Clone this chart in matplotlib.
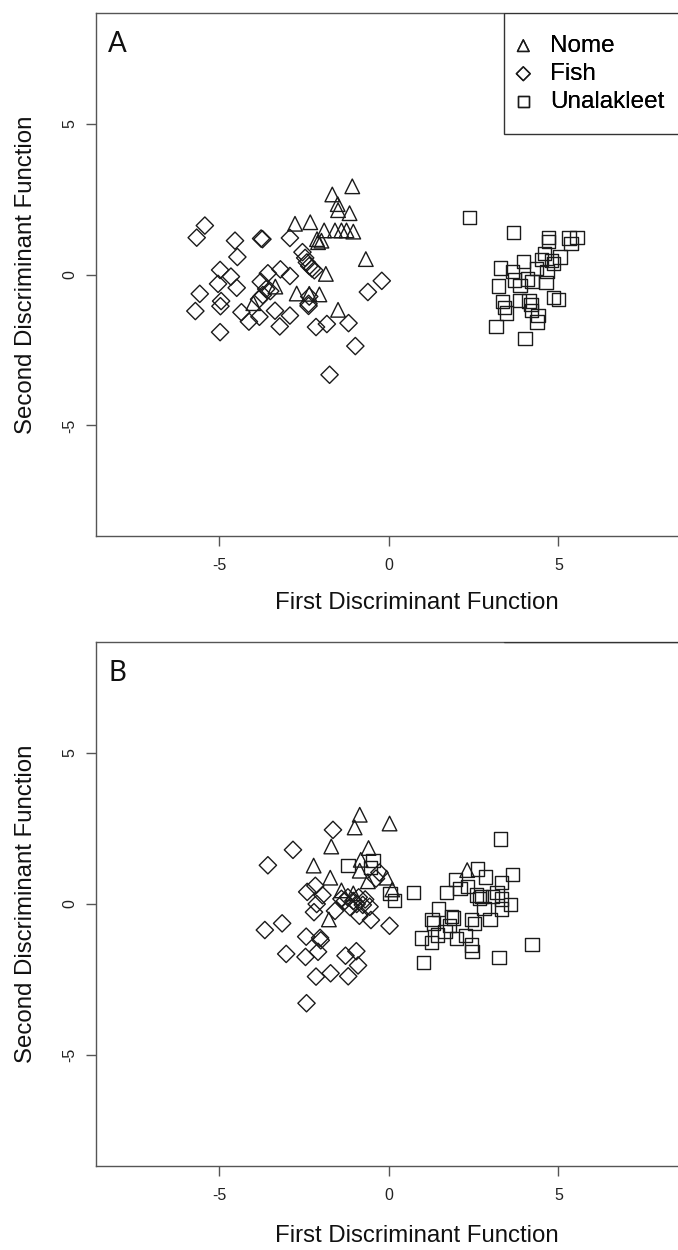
import matplotlib
matplotlib.use("Agg")
import matplotlib.pyplot as plt
from matplotlib.patches import Rectangle

plt.rcParams['font.family'] = ['Liberation Sans', 'DejaVu Sans']

# panel A
nome_a_x = [-1.08, -1.67, -1.51, -1.50, -1.16, -2.77, -2.32, -1.91, -1.59, -1.40, -1.25, -1.05,
            -2.12, -1.99, -2.09, -0.68, -1.86, -2.72, -2.35, -2.05, -1.50, -4.00, -3.35]
nome_a_y = [2.92, 2.65, 2.33, 2.13, 2.03, 1.68, 1.73, 1.46, 1.46, 1.46, 1.46, 1.42,
            1.17, 1.12, 1.07, 0.51, 0.02, -0.63, -0.64, -0.66, -1.17, -0.95, -0.40]
fish_a_x = [-5.43, -5.67, -4.54, -3.77, -3.73, -2.92, -4.47, -2.55, -2.47, -2.42, -2.35, -2.27,
            -2.20, -4.98, -4.66, -5.04, -4.49, -3.78, -3.57, -3.20, -2.92, -5.58, -4.95, -4.97,
            -5.71, -3.62, -3.72, -3.83, -3.50, -4.35, -4.13, -3.82, -3.36, -3.22, -2.92, -4.98,
            -2.37, -2.35, -2.37, -2.15, -1.83, -1.19, -0.62, -0.21, -0.99, -1.75]
fish_a_y = [1.62, 1.22, 1.12, 1.19, 1.17, 1.21, 0.58, 0.74, 0.55, 0.40, 0.28, 0.20,
            0.14, 0.15, -0.07, -0.31, -0.44, -0.24, 0.04, 0.17, -0.05, -0.64, -0.88, -1.05,
            -1.21, -0.48, -0.68, -0.82, -0.55, -1.25, -1.56, -1.40, -1.20, -1.72, -1.36, -1.91,
            -0.97, -0.73, -1.04, -1.74, -1.64, -1.61, -0.58, -0.21, -2.37, -3.32]
unal_a_x = [2.37, 3.68, 4.70, 4.70, 5.31, 5.55, 5.37, 5.05, 4.85, 4.80, 4.50, 4.60, 3.98,
            4.36, 3.30, 3.64, 3.71, 4.08, 4.22, 4.64, 3.24, 3.87, 4.66, 3.86, 4.13, 4.19,
            4.85, 5.00, 3.36, 3.41, 3.47, 4.40, 3.16, 4.02, 4.37, 4.21]
unal_a_y = [1.88, 1.38, 1.22, 1.10, 1.21, 1.22, 1.03, 0.58, 0.36, 0.46, 0.50, 0.70, 0.42,
            0.19, 0.22, 0.11, -0.18, -0.15, -0.24, -0.26, -0.38, -0.37, 0.09, -0.87, -0.88, -0.99,
            -0.77, -0.82, -0.90, -1.10, -1.27, -1.36, -1.73, -2.12, -1.57, -1.19]

# panel B
nome_b_x = [-0.86, -1.01, 0.02, -1.70, -0.60, -2.22, -0.83, -1.73, -0.86, -0.07, 0.10, 2.31,
            -1.77, -0.62, -1.05, -1.40]
nome_b_y = [2.95, 2.53, 2.66, 1.90, 1.85, 1.27, 1.46, 0.87, 1.10, 0.87, 0.48, 1.12,
            -0.51, 0.75, 0.35, 0.45]
fish_b_x = [-3.57, -2.83, -1.65, -2.41, -2.17, -1.96, -2.13, -2.21, -1.59, -1.40, -1.21, -1.05,
            -0.89, -0.77, -0.57, -0.87, -0.53, -0.28, -0.38, -3.66, -3.15, -2.44, -2.03, -2.01,
            -3.03, -2.46, -2.09, -1.28, -0.96, -0.91, -1.20, -2.15, -1.72, -2.43, 0.02, -1.30,
            -1.15, -0.95, -0.70]
fish_b_y = [1.28, 1.79, 2.45, 0.40, 0.60, 0.29, 0.00, -0.27, -0.23, 0.17, 0.22, 0.10,
            0.22, -0.03, -0.09, -0.39, -0.53, 1.04, 0.84, -0.86, -0.64, -1.08, -1.12, -1.20,
            -1.65, -1.75, -1.58, -1.71, -1.56, -2.03, -2.39, -2.40, -2.29, -3.28, -0.72, 0.10,
            -0.10, 0.00, 0.15]
unal_b_x = [3.29, 3.64, 2.62, 2.86, 1.96, 2.10, 2.31, 1.70, 3.33, 3.19, 3.06, 2.74, 2.59,
            2.68, 3.58, 3.32, 3.32, 2.81, 2.98, 2.43, 2.52, 0.73, -0.47, -1.21, 0.03, 0.17,
            1.46, 1.27, 1.32, 1.84, 1.90, 1.78, 1.66, 0.97, 1.25, 1.43, 1.99, 2.26, 2.43,
            2.45, 1.02, 3.25, 4.22, -0.55]
unal_b_y = [2.15, 0.98, 1.16, 0.89, 0.81, 0.52, 0.57, 0.39, 0.70, 0.37, 0.24, 0.24, 0.30,
            0.19, -0.02, 0.17, -0.16, -0.15, -0.51, -0.51, -0.65, 0.38, 1.44, 1.28, 0.35, 0.12,
            -0.17, -0.52, -0.63, -0.41, -0.46, -0.72, -0.90, -1.12, -1.28, -1.03, -1.14, -1.05, -1.35,
            -1.58, -1.93, -1.76, -1.34, 1.20]

groups = ['Nome', 'Fish', 'Unalakleet']
panels = [('A', [(nome_a_x, nome_a_y), (fish_a_x, fish_a_y), (unal_a_x, unal_a_y)]),
          ('B', [(nome_b_x, nome_b_y), (fish_b_x, fish_b_y), (unal_b_x, unal_b_y)])]
markers = ['^', 'D', 's']
msizes = [10.5, 8.8, 9.6]

W, H = 678, 1250
fig = plt.figure(figsize=(W / 100, H / 100), dpi=100)

# pixel boxes: left, top, right, bottom
boxes = [(95.7, 13, 738, 536), (95.7, 642, 738, 1166)]
xlab_top = [592, 1225]
ax_col = '#555555'

for (tag, data), (l, t, r, b), xt in zip(panels, boxes, xlab_top):
    ax = fig.add_axes([l / W, 1 - b / H, (r - l) / W, (b - t) / H])
    for (xs, ys), m, ms, g in zip(data, markers, msizes, groups):
        ax.scatter(xs, ys, marker=m, s=ms ** 2, facecolors='none', edgecolors='#1a1a1a',
                   linewidths=1.0, label=g, zorder=2)
    ax.set_xlim(-8.65, 10.3)
    ax.set_ylim(-8.66, 8.66)
    ax.set_xticks([-5, 0, 5])
    ax.set_yticks([-5, 0, 5])
    ax.set_xticklabels(['-5', '0', '5'])
    ax.set_yticklabels(['-5', '0', '5'], rotation=90, va='center')
    ax.tick_params(length=7.5, width=1.0, color=ax_col, labelsize=11.5, labelcolor='#222222')
    ax.tick_params(axis='x', pad=8)
    ax.tick_params(axis='y', pad=6)
    for sp in ax.spines.values():
        sp.set_color(ax_col)
        sp.set_linewidth(1.0)
    ax.set_xlabel('First Discriminant Function', fontsize=17.3, color='#111111')
    ax.set_ylabel('Second Discriminant Function', fontsize=17.3, color='#111111')
    ax.xaxis.set_label_coords(0.5, (b - xt) / (b - t))
    ax.yaxis.set_label_coords((37 - l) / (r - l), 0.5)

    # legend box (top-right, running past the right edge of the picture)
    fx = lambda px: (px - l) / (r - l)
    fy = lambda py: (b - py) / (b - t)
    ax.add_patch(Rectangle((fx(504), fy(134)), 1 - fx(504), 1 - fy(134), transform=ax.transAxes,
                           facecolor='white', edgecolor='#333333', linewidth=1.0, zorder=3))
    leg = ax.legend(loc='upper left', bbox_to_anchor=(fx(516), fy(35)), frameon=False,
                    borderaxespad=0, borderpad=0, fontsize=17.5, markerscale=0.8,
                    handlelength=0.6, handletextpad=0.8, labelspacing=0.25, scatterpoints=1)
    leg.set_zorder(4)
    fig.text(117 / W, 1 - (t + 31) / H, tag, fontsize=20, family=['Lato', 'DejaVu Sans'],
             ha='center', va='center', color='#111111')

fig.savefig('out.png', dpi=100)
